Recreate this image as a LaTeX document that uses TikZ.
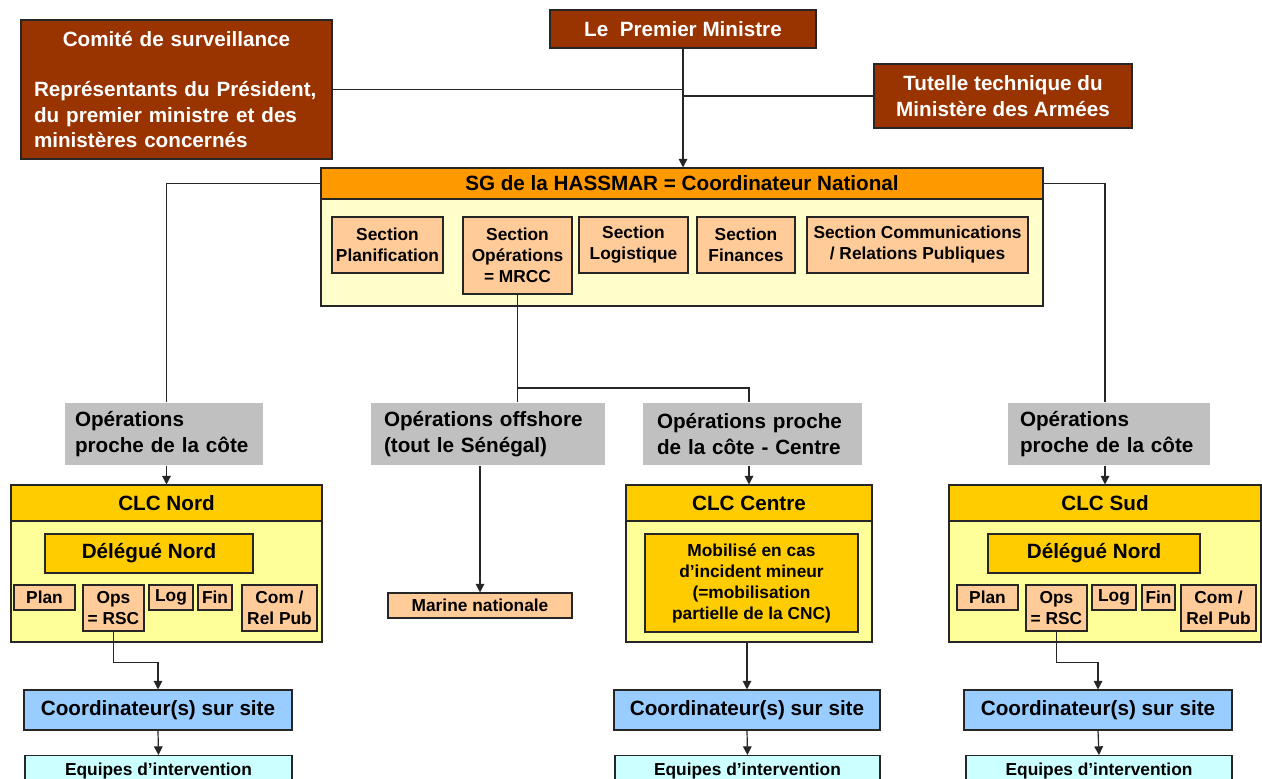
\documentclass[tikz,border=0pt]{standalone}
\usepackage{fontspec}
\setmainfont{Liberation Sans}
\usetikzlibrary{arrows.meta}

\definecolor{brun}{HTML}{993300}
\definecolor{orangesg}{HTML}{FF9900}
\definecolor{jaunepale}{HTML}{FFFFCC}
\definecolor{saumon}{HTML}{FFCC99}
\definecolor{grisops}{HTML}{C0C0C0}
\definecolor{orclc}{HTML}{FFCC00}
\definecolor{jauneclc}{HTML}{FFFF99}
\definecolor{bleucoord}{HTML}{99CCFF}
\definecolor{cyanequip}{HTML}{CCFFFF}

\newlength\pxl
\setlength\pxl{0.75pt}

\begin{document}
\begin{tikzpicture}[x=0.75pt, y=-0.75pt,
  sz/.style 2 args={minimum width=#1\pxl, minimum height=#2\pxl},
  box/.style={draw=black!85, line width=0.8pt, inner sep=0pt, align=center,
    font=\bfseries\fontsize{15.5}{19}\selectfont},
  small/.style={box, font=\bfseries\fontsize{13}{15.75}\selectfont},
  chef/.style={box, fill=brun, text=white},
  ops/.style={box, draw=none, fill=grisops, align=left},
  sec/.style={small, fill=saumon},
  equip/.style={small, fill=cyanequip, anchor=north, inner ysep=5.25pt, text depth=30pt},
  arr/.style={-{Triangle[length=6.5pt,width=6.5pt]}, line width=0.9pt, draw=black!85},
  lien/.style={line width=0.9pt, draw=black!85}
]
  \useasboundingbox (0,0) rectangle (1262,778);
  \clip (0,0) rectangle (1262,778);

  % Tutelle
  \node[chef, sz={266}{38}] (pm) at (683,29) {Le\ \ Premier Ministre};
  \node[chef, sz={311}{139}, align=left, text width=285\pxl] (comite) at (176.5,89.5)
    {{\centering Comité de surveillance\par}\vskip19pt
     \noindent Représentants du Président,\\du premier ministre et des\\ministères concernés};
  \node[chef, sz={258}{64}] (tutelle) at (1003,96) {Tutelle technique du\\Ministère des Armées};

  % SG HASSMAR
  \node[box, fill=jaunepale, sz={722}{107}] (sgbody) at (682,252.5) {};
  \node[box, fill=orangesg, sz={722}{31}] (sghead) at (682,183.5) {SG de la HASSMAR = Coordinateur National};
  \node[sec, sz={111}{56}] (secplan) at (387.5,245) {Section\\Planification};
  \node[sec, sz={109}{77}] (secops) at (517.5,255.5) {Section\\Opérations\\= MRCC};
  \node[sec, sz={109}{56}] (seclog) at (633.5,245) {Section\\Logistique};
  \node[sec, sz={98}{56}] (secfin) at (746,245) {Section\\Finances};
  \node[sec, sz={221}{56}] (seccom) at (917.5,245) {Section Communications\\/ Relations Publiques};

  % Zones d'operations
  \node[ops, sz={198}{62}, text width=178\pxl] (gnord) at (164,434) {Opérations\\proche de la côte};
  \node[ops, sz={234}{62}, text width=208\pxl] (goff) at (488,434) {Opérations offshore\\(tout le Sénégal)};
  \node[ops, sz={219}{62}, text width=191\pxl] (gcentre) at (752.5,434) {Opérations proche\\de la côte - Centre};
  \node[ops, sz={202}{62}, text width=178\pxl] (gsud) at (1109,434) {Opérations\\proche de la côte};

  \node[sec, sz={184}{25}] (marine) at (480,605.5) {Marine nationale};

  % CLC Nord
  \node[box, fill=jauneclc, sz={311}{121}] (clcnb) at (166.5,581.5) {};
  \node[box, fill=orclc, sz={311}{36}] (clcnh) at (166.5,503) {CLC Nord};
  \node[box, fill=orclc, sz={208}{39}] (ndel) at (149,553.5) {Délégué Nord};
  \node[sec, sz={61}{25}] (nplan) at (44.5,597.5) {Plan};
  \node[sec, sz={61}{46}] (nops) at (113.5,608) {Ops\\= RSC};
  \node[sec, sz={44}{25}] (nlog) at (171,597.5) {Log};
  \node[sec, sz={34}{25}] (nfin) at (215,597.5) {Fin};
  \node[sec, sz={75}{46}] (ncom) at (279.5,608) {Com /\\Rel Pub};
  \node[box, fill=bleucoord, sz={268}{40}] (ncoord) at (158,710) {Coordinateur(s) sur site};
  \node[equip, minimum width=267\pxl] (nequip) at (158.5,755) {Equipes d’intervention};

  % CLC Centre
  \node[box, fill=jauneclc, sz={246}{121}] (clccb) at (749,581.5) {};
  \node[box, fill=orclc, sz={246}{36}] (clcch) at (749,503) {CLC Centre};
  \node[small, fill=orclc, sz={213}{98}] (cmob) at (751.5,583) {Mobilisé en cas\\d’incident mineur\\(=mobilisation\\partielle de la CNC)};
  \node[box, fill=bleucoord, sz={266}{40}] (ccoord) at (747,710) {Coordinateur(s) sur site};
  \node[equip, minimum width=265\pxl] (cequip) at (747.5,755) {Equipes d’intervention};

  % CLC Sud
  \node[box, fill=jauneclc, sz={312}{121}] (clcsb) at (1105,581.5) {};
  \node[box, fill=orclc, sz={312}{36}] (clcsh) at (1105,503) {CLC Sud};
  \node[box, fill=orclc, sz={212}{39}] (sdel) at (1094,553.5) {Délégué Nord};
  \node[sec, sz={61}{25}] (splan) at (987.5,597.5) {Plan};
  \node[sec, sz={61}{46}] (sops) at (1056.5,608) {Ops\\= RSC};
  \node[sec, sz={44}{25}] (slog) at (1114,597.5) {Log};
  \node[sec, sz={33}{25}] (sfin) at (1158.5,597.5) {Fin};
  \node[sec, sz={75}{46}] (scom) at (1218.5,608) {Com /\\Rel Pub};
  \node[box, fill=bleucoord, sz={268}{40}] (scoord) at (1098,710) {Coordinateur(s) sur site};
  \node[equip, minimum width=266\pxl] (sequip) at (1099,755) {Equipes d’intervention};

  % Liaisons
  \draw[arr] (pm.south) -- (pm.south |- sghead.north);
  \draw[lien] (comite.east) -- (comite.east -| pm.south);
  \draw[lien] (tutelle.west) -- (tutelle.west -| pm.south);
  \draw[lien] (sghead.west) -| (gnord.north -| clcnh.north);
  \draw[lien] (sghead.east) -| (gsud.north -| clcsh.north);
  \coordinate (split) at (517.5,388);
  \draw[lien] (secops.south) -- (secops.south |- goff.north);
  \draw[lien] (split) -| (gcentre.north -| clcch.north);
  \draw[arr] (marine.north |- goff.south) -- (marine.north);

  \draw[arr] (gnord.south -| clcnh.north) -- (clcnh.north);
  \draw[arr] (gcentre.south -| clcch.north) -- (clcch.north);
  \draw[arr] (gsud.south -| clcsh.north) -- (clcsh.north);

  \draw[arr] (nops.south) -- ++(0,31) -| (ncoord.north);
  \draw[arr] (ccoord.north |- clccb.south) -- (ccoord.north);
  \draw[arr] (sops.south) -- ++(0,31) -| (scoord.north);

  \draw[arr] (ncoord.south) -- (nequip.north);
  \draw[arr] (ccoord.south) -- (cequip.north);
  \draw[arr] (scoord.south) -- (sequip.north);
\end{tikzpicture}
\end{document}
